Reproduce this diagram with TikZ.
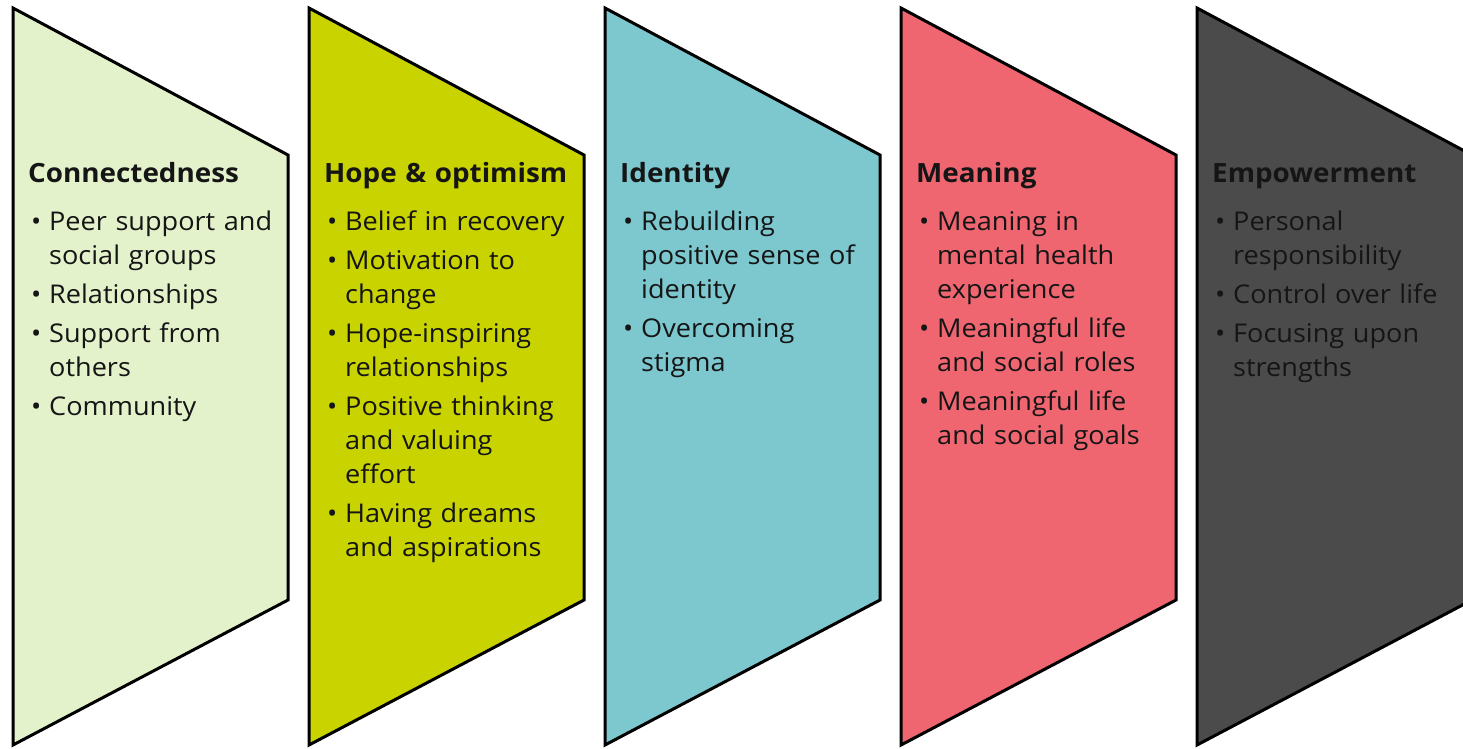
\documentclass[tikz,border=0pt]{standalone}
\usepackage{fontspec}
\setmainfont[FakeStretch=1.05]{Open Sans}
\definecolor{cA}{HTML}{E4F2CB}
\definecolor{cB}{HTML}{C9D300}
\definecolor{cC}{HTML}{7DC7CF}
\definecolor{cD}{HTML}{EF6671}
\definecolor{cE}{HTML}{4B4B4B}
\definecolor{txt}{HTML}{151515}
\newcommand\nl{\hfil\break}
\newcommand\coltitle[1]{\noindent\rule{0pt}{20pt}{\bfseries\fontsize{26.5}{34}\selectfont #1}\par\vspace{14pt}}
\newcommand\itm[1]{\noindent\hangindent=21pt\hangafter=1\makebox[21pt][l]{\hspace{3pt}\textbullet}#1\par\vspace{5pt}}
\tikzset{
  panel/.style={draw=black, line width=3pt, line join=miter},
  coltext/.style={anchor=north west, inner sep=0pt, text width=268pt,
    font=\fontsize{25.8}{34}\selectfont, text=txt}
}
\begin{document}
\begin{tikzpicture}[x=1pt,y=-1pt]
\useasboundingbox (0,0) rectangle (1463,748);
\clip (0,0) rectangle (1463,748);
\foreach \L/\c in {13/cA,309/cB,605/cC,901/cD,1197/cE}{
  \path[panel, fill=\c] (\L,8) -- (\L+275,155) -- (\L+275,600) -- (\L,745) -- cycle;
}
\node[coltext] (t1) at (28,162) {\coltitle{Connectedness}
\itm{Peer support and\nl social groups}
\itm{Relationships}
\itm{Support from\nl others}
\itm{Community}};
\node[coltext] (t2) at (324,162) {\coltitle{Hope \& optimism}
\itm{Belief in recovery}
\itm{Motivation to\nl change}
\itm{Hope-inspiring\nl relationships}
\itm{Positive thinking\nl and valuing\nl effort}
\itm{Having dreams\nl and aspirations}};
\node[coltext] (t3) at (620,162) {\coltitle{Identity}
\itm{Rebuilding\nl positive sense of\nl identity}
\itm{Overcoming\nl stigma}};
\node[coltext] (t4) at (916,162) {\coltitle{Meaning}
\itm{Meaning in\nl mental health\nl experience}
\itm{Meaningful life\nl and social roles}
\itm{Meaningful life\nl and social goals}};
\node[coltext] (t5) at (1212,162) {\coltitle{Empowerment}
\itm{Personal\nl responsibility}
\itm{Control over life}
\itm{Focusing upon\nl strengths}};
\end{tikzpicture}
\end{document}
